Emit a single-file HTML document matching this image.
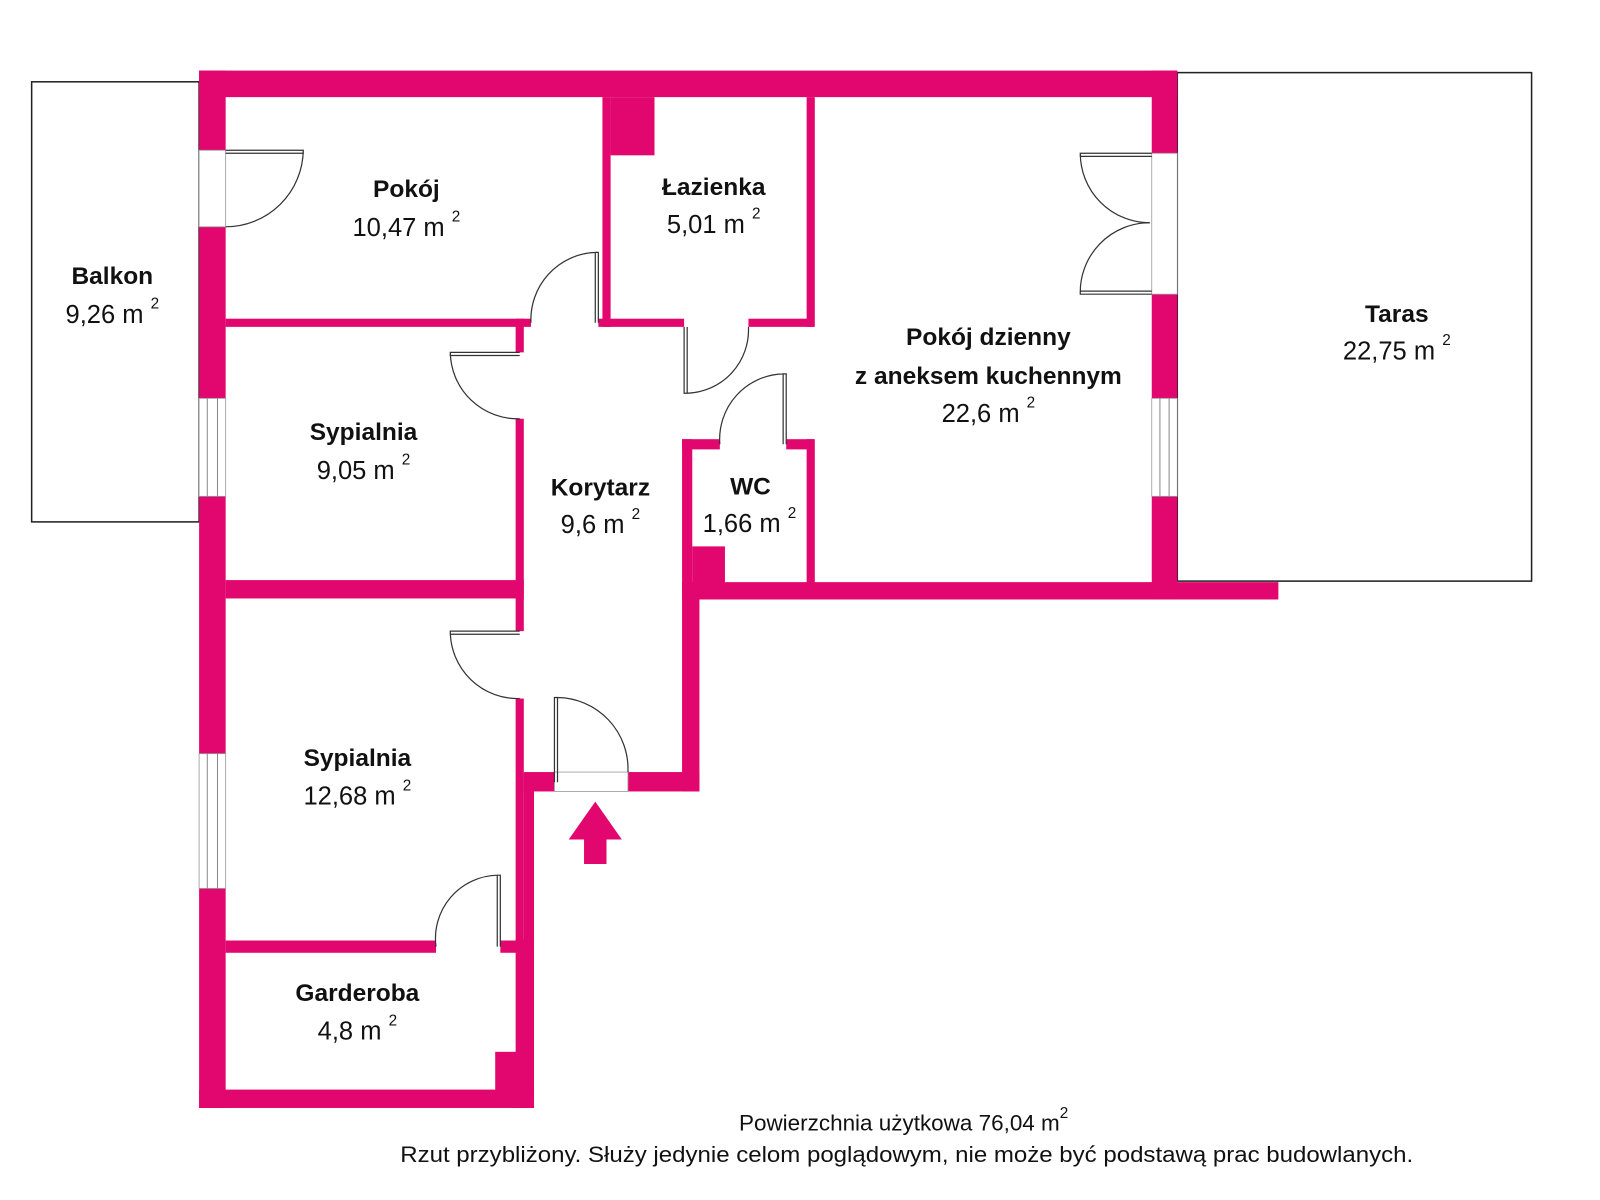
<!DOCTYPE html>
<html><head><meta charset="utf-8"><style>
html,body{margin:0;padding:0;background:#fff;}
svg{display:block}
text{font-family:"Liberation Sans",sans-serif;fill:#111;text-anchor:middle}
.b{font-weight:bold;font-size:24px}
.n{font-size:25px}
.f{font-size:22px}
</style></head><body>
<svg width="1600" height="1200" viewBox="0 0 1567 1175" xmlns="http://www.w3.org/2000/svg">
<rect width="1567" height="1175" fill="#fff"/>
<rect x="31" y="80" width="164" height="431" fill="none" stroke="#222" stroke-width="1.5"/>
<rect x="1153" y="71" width="347" height="498" fill="none" stroke="#222" stroke-width="1.5"/>
<g fill="#e2066f">
<rect x="195" y="69" width="958" height="26"/>
<rect x="195" y="69" width="26" height="1016"/>
<rect x="195" y="1067" width="328" height="18"/>
<rect x="505" y="920" width="18" height="165"/>
<rect x="485" y="1030" width="22" height="40"/>
<rect x="513" y="758" width="10" height="170"/>
<rect x="513" y="756" width="30" height="19"/>
<rect x="615" y="756" width="70" height="19"/>
<rect x="668" y="570" width="17" height="205"/>
<rect x="505" y="312" width="8" height="33"/>
<rect x="505" y="410" width="8" height="208"/>
<rect x="505" y="684" width="8" height="240"/>
<rect x="221" y="312" width="299" height="8"/>
<rect x="221" y="568" width="292" height="18"/>
<rect x="221" y="921" width="206" height="12"/>
<rect x="490" y="921" width="20" height="12"/>
<rect x="586" y="312" width="84" height="8"/>
<rect x="733" y="312" width="64" height="8"/>
<rect x="590" y="95" width="8" height="225"/>
<rect x="598" y="95" width="43" height="57"/>
<rect x="790" y="95" width="8" height="225"/>
<rect x="668" y="430" width="37" height="10"/>
<rect x="770" y="430" width="27" height="10"/>
<rect x="668" y="430" width="10" height="145"/>
<rect x="790" y="430" width="8" height="145"/>
<rect x="678" y="535" width="32" height="40"/>
<rect x="668" y="570" width="584" height="17"/>
<rect x="1128" y="69" width="25" height="518"/>
<polygon points="583,785 609,822 594,822 594,846 572,846 572,822 557,822"/>
</g>
<g fill="#fff" stroke="#999" stroke-width="0.8">
<rect x="195" y="147" width="26" height="75"/>
<rect x="195" y="390" width="26" height="96"/>
<rect x="195" y="738" width="26" height="132"/>
<rect x="1128" y="150" width="25" height="138"/>
<rect x="1128" y="390" width="25" height="96"/>
<rect x="543" y="756" width="72" height="19"/>
</g>
<g stroke="#888" stroke-width="1">
<line x1="203" y1="390" x2="203" y2="486"/><line x1="213" y1="390" x2="213" y2="486"/>
<line x1="203" y1="738" x2="203" y2="870"/><line x1="213" y1="738" x2="213" y2="870"/>
<line x1="1136" y1="390" x2="1136" y2="486"/><line x1="1145" y1="390" x2="1145" y2="486"/>
</g>
<g fill="none" stroke="#333" stroke-width="1.2">
<path d="M221,147 H297 V150 H221 M297,147 A76,76 0 0 1 221,222"/>
<path d="M586,316 V247 H583 V316 M583,247 A66,66 0 0 0 520,316"/>
<path d="M509,345 H441 V348 H509 M441,345 A66,66 0 0 0 509,410"/>
<path d="M670,320 V385 H673 V320 M673,385 A62,62 0 0 0 733,320"/>
<path d="M770,435 V366 H767 V435 M767,366 A64,64 0 0 0 705,435"/>
<path d="M509,618 H441 V621 H509 M441,618 A66,66 0 0 0 509,684"/>
<path d="M543,766 V683 H546 V766 M546,683 A70,70 0 0 1 615,756"/>
<path d="M490,927 V857 H487 V927 M487,857 A62,62 0 0 0 427,927"/>
<path d="M1128,150 H1058 V153 H1128 M1058,150 A68,68 0 0 0 1126,218"/>
<path d="M1128,288 H1058 V285 H1128 M1058,288 A68,68 0 0 1 1126,218"/>
</g>
<text class="b" x="398" y="193">Pokój</text>
<text class="n" x="398" y="231">10,47 m <tspan dy="-14" font-size="15">2</tspan></text>
<text class="b" x="699" y="191">Łazienka</text>
<text class="n" x="699" y="228">5,01 m <tspan dy="-14" font-size="15">2</tspan></text>
<text class="b" x="110" y="278">Balkon</text>
<text class="n" x="110" y="316">9,26 m <tspan dy="-14" font-size="15">2</tspan></text>
<text class="b" x="1368" y="315">Taras</text>
<text class="n" x="1368" y="352">22,75 m <tspan dy="-14" font-size="15">2</tspan></text>
<text class="b" x="968" y="338">Pokój dzienny</text>
<text class="b" x="968" y="376">z aneksem kuchennym</text>
<text class="n" x="968" y="413">22,6 m <tspan dy="-14" font-size="15">2</tspan></text>
<text class="b" x="356" y="431">Sypialnia</text>
<text class="n" x="356" y="469">9,05 m <tspan dy="-14" font-size="15">2</tspan></text>
<text class="b" x="588" y="485">Korytarz</text>
<text class="n" x="588" y="522">9,6 m <tspan dy="-14" font-size="15">2</tspan></text>
<text class="b" x="735" y="484">WC</text>
<text class="n" x="734" y="521">1,66 m <tspan dy="-14" font-size="15">2</tspan></text>
<text class="b" x="350" y="750">Sypialnia</text>
<text class="n" x="350" y="788">12,68 m <tspan dy="-14" font-size="15">2</tspan></text>
<text class="b" x="350" y="980">Garderoba</text>
<text class="n" x="350" y="1018">4,8 m <tspan dy="-14" font-size="15">2</tspan></text>
<text class="f" x="885" y="1107">Powierzchnia użytkowa 76,04 m<tspan dy="-12" font-size="15">2</tspan></text>
<text class="f" x="888" y="1138" textLength="992" lengthAdjust="spacingAndGlyphs">Rzut przybliżony. Służy jedynie celom poglądowym, nie może być podstawą prac budowlanych.</text>
</svg>
</body></html>
